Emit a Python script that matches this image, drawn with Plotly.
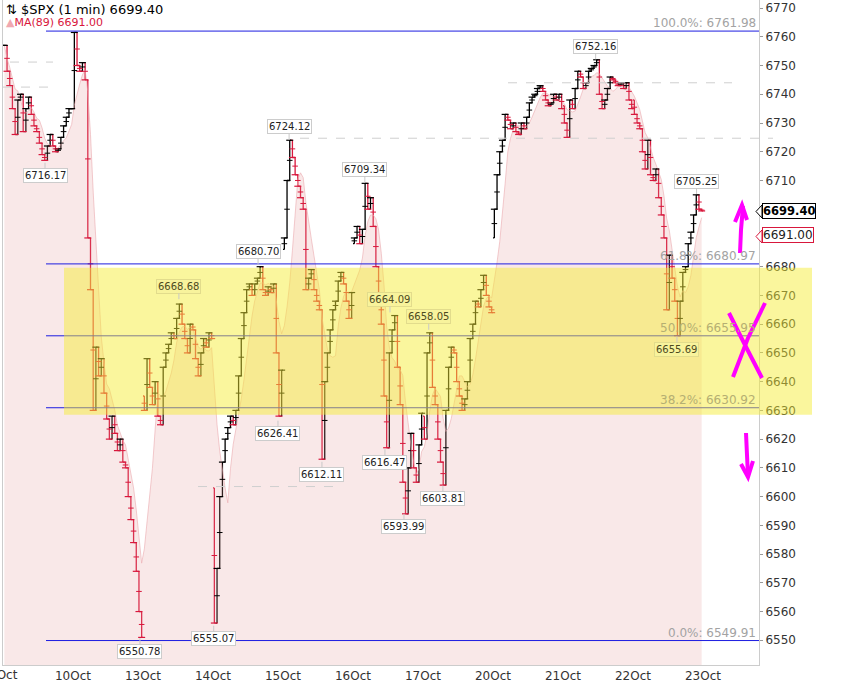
import pandas as pd
import plotly.graph_objects as go

# trading sessions on the x axis (tick sits at the start of each session)
sessions = ["9Oct", "10Oct", "13Oct", "14Oct", "15Oct", "16Oct", "17Oct", "20Oct", "21Oct", "22Oct"]
tick_days = sessions + ["23Oct"]

# first print of every session
session_open = [6757, 6735, 6635, 6603, 6686, 6688, 6628, 6690, 6736, 6738]

# closes every 15 minutes (26 per session)
c_9oct = [6757, 6748, 6743, 6735, 6726, 6738, 6740, 6727, 6735, 6739, 6733, 6729, 6727,
          6723, 6719, 6717, 6722, 6726, 6722, 6720, 6721, 6725, 6729, 6732, 6735, 6735]
c_10oct = [6761.5, 6750, 6748, 6751, 6745, 6690, 6672, 6630, 6652, 6642, 6648, 6636, 6627,
           6620, 6628, 6622, 6616, 6620, 6612, 6610, 6600, 6592, 6584, 6574, 6560, 6551]
c_13oct = [6630, 6648, 6638, 6632, 6640, 6628, 6625, 6645, 6650, 6653, 6657, 6655, 6662,
           6667, 6660, 6655, 6650, 6660, 6658, 6648, 6642, 6650, 6655, 6652, 6657, 6655]
c_14oct = [6556, 6575, 6600, 6612, 6620, 6624, 6628, 6625, 6630, 6642, 6655, 6664, 6672,
           6674, 6670, 6674, 6676, 6680, 6672, 6670, 6673, 6671, 6674, 6650, 6628, 6644]
c_15oct = [6690, 6710, 6724, 6718, 6712, 6708, 6704, 6700, 6672, 6676, 6679, 6672, 6668,
           6665, 6613, 6640, 6650, 6658, 6665, 6668, 6675, 6678, 6674, 6668, 6662, 6671]
c_16oct = [6690, 6694, 6688, 6693, 6709, 6700, 6704, 6694, 6680, 6670, 6660, 6635, 6617,
           6650, 6658, 6663, 6645, 6632, 6605, 6594, 6610, 6622, 6610, 6605, 6618, 6629]
c_17oct = [6620, 6650, 6657, 6638, 6632, 6620, 6612, 6604, 6630, 6645, 6652, 6650, 6640,
           6635, 6630, 6634, 6640, 6655, 6660, 6668, 6666, 6672, 6677, 6670, 6666, 6664]
c_20oct = [6700, 6712, 6720, 6724, 6733, 6731, 6728, 6730, 6727, 6726, 6730, 6728, 6732,
           6737, 6739, 6740, 6742, 6743, 6741, 6738, 6736, 6737, 6740, 6738, 6740, 6735]
c_21oct = [6730, 6725, 6738, 6735, 6742, 6748, 6746, 6742, 6744, 6748, 6749, 6750, 6752,
           6740, 6735, 6738, 6742, 6746, 6745, 6744, 6743, 6744, 6742, 6744, 6738, 6735]
c_22oct = [6733, 6730, 6728, 6720, 6714, 6724, 6712, 6710, 6714, 6704, 6698, 6690, 6665,
           6684, 6676, 6668, 6656, 6668, 6678, 6680, 6688, 6692, 6698, 6705, 6700, 6699.4]
session_closes = [c_9oct, c_10oct, c_13oct, c_14oct, c_15oct, c_16oct, c_17oct, c_20oct, c_21oct, c_22oct]

# marked highs / lows: value, session index, minute into session, label side
hl_value = [6716.17, 6550.78, 6668.68, 6555.07, 6680.70, 6626.41, 6724.12, 6612.11, 6709.34,
            6664.09, 6616.47, 6593.99, 6658.05, 6603.81, 6752.16, 6655.69, 6705.25]
hl_session = [0, 1, 2, 3, 3, 3, 4, 4, 5, 5, 5, 5, 6, 6, 8, 9, 9]
hl_minute = [234, 373, 200, 4, 251, 362, 34, 217, 66, 206, 178, 284, 32, 111, 182, 245, 354]
hl_side = ["below", "below", "above", "below", "above", "below", "above", "below", "above",
           "above", "below", "below", "above", "below", "above", "below", "above"]

# fibonacci retracement
fib_pct = ["100.0%", "61.8%", "50.0%", "38.2%", "0.0%"]
fib_val = [6761.98, 6680.97, 6655.95, 6630.92, 6549.91]

# light dashed levels: price, from px, to px
dash_level = [6751.2, 6742.5, 6744.0, 6724.7, 6603.5]
dash_from = [10, 3, 508, 300, 198]
dash_to = [53, 53, 732, 773, 335]

last_price = 6699.40
last_ma = 6691.00
box_top, box_bottom = 6679.6, 6628.5

RED = "#d8173c"
FONT = "DejaVu Sans"
Y_MIN, Y_MAX = 6541.4, 6772.8
MIN_PER_DAY = 390
X_MAX = 10.8 * MIN_PER_DAY
L, R, T, B = 3, 759, 0, 665


def px_x(px):
    return (px - L) / (R - L)


def px_y(py):
    return (B - py) / (B - T)


def price_y(p):
    return (p - Y_MIN) / (Y_MAX - Y_MIN)


def in_box(p):
    return box_bottom <= p <= box_top


x, o, h, l, c = [], [], [], [], []
for d, (first, closes) in enumerate(zip(session_open, session_closes)):
    prev = first
    for i, val in enumerate(closes):
        x.append(d * MIN_PER_DAY + 15 * i + 7.5)
        o.append(prev)
        c.append(val)
        h.append(max(prev, val))
        l.append(min(prev, val))
        prev = val

ma = pd.Series(c).rolling(6, min_periods=1).mean()
tick_col = ["black" if cl >= op else RED for op, cl in zip(o, c)]

fig = go.Figure()
fig.add_trace(go.Scatter(
    x=x, y=ma, mode="lines", fill="tozeroy",
    line=dict(color="rgba(235,170,175,0.6)", width=1),
    fillcolor="rgba(228,150,150,0.22)", hoverinfo="skip"
))
fig.add_trace(go.Ohlc(
    x=x, open=o, high=h, low=l, close=c,
    increasing_line_color="black", decreasing_line_color=RED,
    line_width=1.3, tickwidth=0.5, hoverinfo="skip"
))
# small crosses of the 1 min bars
fig.add_trace(go.Scatter(
    x=x, y=c, mode="markers", hoverinfo="skip",
    marker=dict(symbol="line-ew", size=5, line=dict(width=1.2, color=tick_col))
))
fig.add_trace(go.Scatter(
    x=x, y=[(a + b) / 2 for a, b in zip(o, c)], mode="markers", hoverinfo="skip",
    marker=dict(symbol="line-ew", size=4, line=dict(width=1, color=tick_col))
))

shapes = []
for lvl, a, b in zip(dash_level, dash_from, dash_to):
    shapes.append(dict(type="line", xref="paper", yref="y", x0=px_x(a), x1=px_x(b), y0=lvl, y1=lvl,
                       line=dict(color="#cfcfcf", width=1, dash="dash"), layer="above"))
for v in fib_val:
    shapes.append(dict(type="line", xref="paper", yref="y", x0=px_x(46), x1=1, y0=v, y1=v,
                       line=dict(color="#1c1ce0", width=1), layer="above"))
shapes.append(dict(type="rect", xref="paper", yref="paper", x0=px_x(64), x1=px_x(812),
                   y0=price_y(box_bottom), y1=price_y(box_top),
                   fillcolor="rgba(244,236,50,0.48)", line=dict(width=0), layer="above"))


def px_path(points):
    parts = []
    for k, (a, b) in enumerate(points):
        parts.append(("M" if k == 0 else "L") + f"{px_x(a):.5f},{px_y(b):.5f}")
    return " ".join(parts)


pen = dict(color="#ff00ff", width=4)
marks = [
    [(740, 253), (741, 230), (743, 206)],
    [(735, 222), (742, 205), (747, 220)],
    [(729, 313), (745, 345), (762, 378)],
    [(765, 303), (748, 338), (733, 377)],
    [(746, 433), (747, 455), (748, 476)],
    [(741, 464), (748, 477), (753, 461)],
]
for pts in marks:
    shapes.append(dict(type="path", xref="paper", yref="paper", path=px_path(pts),
                       line=pen, layer="above"))

# pointers of the last-value flags
shapes.append(dict(type="path", xref="paper", yref="paper",
                   path=px_path([(762, 205), (756, 211.5), (762, 218)]) + " Z",
                   fillcolor="white", line=dict(color="black", width=1), layer="above"))
shapes.append(dict(type="path", xref="paper", yref="paper",
                   path=px_path([(762, 230), (756, 236.5), (762, 243)]) + " Z",
                   fillcolor="white", line=dict(color=RED, width=1), layer="above"))

ann = []
for v, s, m, side in zip(hl_value, hl_session, hl_minute, hl_side):
    shift = -13 if side == "above" else 13
    yellow = in_box(v + (4.5 if side == "above" else -4.5))
    ann.append(dict(
        x=s * MIN_PER_DAY + m, y=v, xref="x", yref="y", text=f"{v:.2f}",
        showarrow=True, arrowhead=0, arrowwidth=1, arrowcolor="#c8c8c8",
        ax=0, ay=shift, standoff=0,
        font=dict(family=FONT, size=10, color="#4d4a1e" if yellow else "#222"),
        bgcolor="#f8f39c" if yellow else "white",
        bordercolor="#e2dc8c" if yellow else "#cccccc", borderwidth=1, borderpad=1
    ))

for pct, v in zip(fib_pct, fib_val):
    ann.append(dict(
        x=px_x(758), y=v, xref="paper", yref="y", xanchor="right", yanchor="middle",
        yshift=8, showarrow=False, text=f"{pct}: {v:.2f}",
        font=dict(family=FONT, size=12, color="#b5af72" if in_box(v + 2.8) else "#a3a3a3")
    ))

ann.append(dict(x=px_x(762), y=last_price, xref="paper", yref="y", xanchor="left",
                showarrow=False, text=f"<b>{last_price:.2f}</b>",
                font=dict(family=FONT, size=11.5, color="black"),
                bgcolor="white", bordercolor="black", borderwidth=1, borderpad=0))
ann.append(dict(x=px_x(762), y=last_ma, xref="paper", yref="y", xanchor="left",
                showarrow=False, text=f"{last_ma:.2f}",
                font=dict(family=FONT, size=12, color="#222"),
                bgcolor="white", bordercolor=RED, borderwidth=1, borderpad=0))

ann.append(dict(x=px_x(4), y=px_y(9), xref="paper", yref="paper", xanchor="left",
                yanchor="middle", showarrow=False,
                text=f"⇅ $SPX (1 min) {last_price:.2f}",
                font=dict(family=FONT, size=13, color="black")))
ann.append(dict(x=px_x(4), y=px_y(23), xref="paper", yref="paper", xanchor="left",
                yanchor="middle", showarrow=False,
                text=f"<span style='color:#f0a8b0'>▲</span>MA(89) {last_ma:.2f}",
                font=dict(family=FONT, size=11, color=RED)))
# first session label, half cut at the left edge as in the source
ann.append(dict(x=0, y=px_y(675), xref="x", yref="paper", xanchor="center",
                yanchor="middle", showarrow=False, text=tick_days[0],
                font=dict(family=FONT, size=12, color="#333")))

fig.update_layout(
    width=843, height=687,
    margin=dict(l=L, r=843 - R, t=T, b=687 - B),
    paper_bgcolor="white", plot_bgcolor="white",
    showlegend=False,
    shapes=shapes, annotations=ann,
    xaxis=dict(
        range=[0, X_MAX], rangeslider=dict(visible=False),
        tickvals=[i * MIN_PER_DAY for i in range(1, len(tick_days))], ticktext=tick_days[1:],
        showgrid=False, zeroline=False, showline=True, linecolor="#cccccc", mirror=True,
        tickfont=dict(family=FONT, size=12, color="#333")
    ),
    yaxis=dict(
        range=[Y_MIN, Y_MAX], side="right",
        tickvals=list(range(6550, 6771, 10)),
        ticks="outside", ticklen=3, tickcolor="#999",
        showgrid=False, zeroline=False, showline=True, linecolor="#cccccc", mirror=True,
        tickfont=dict(family=FONT, size=12, color="#333")
    ),
)

fig.write_html("out.html", config={"displayModeBar": False},
               post_script="document.body.style.margin='0';")
